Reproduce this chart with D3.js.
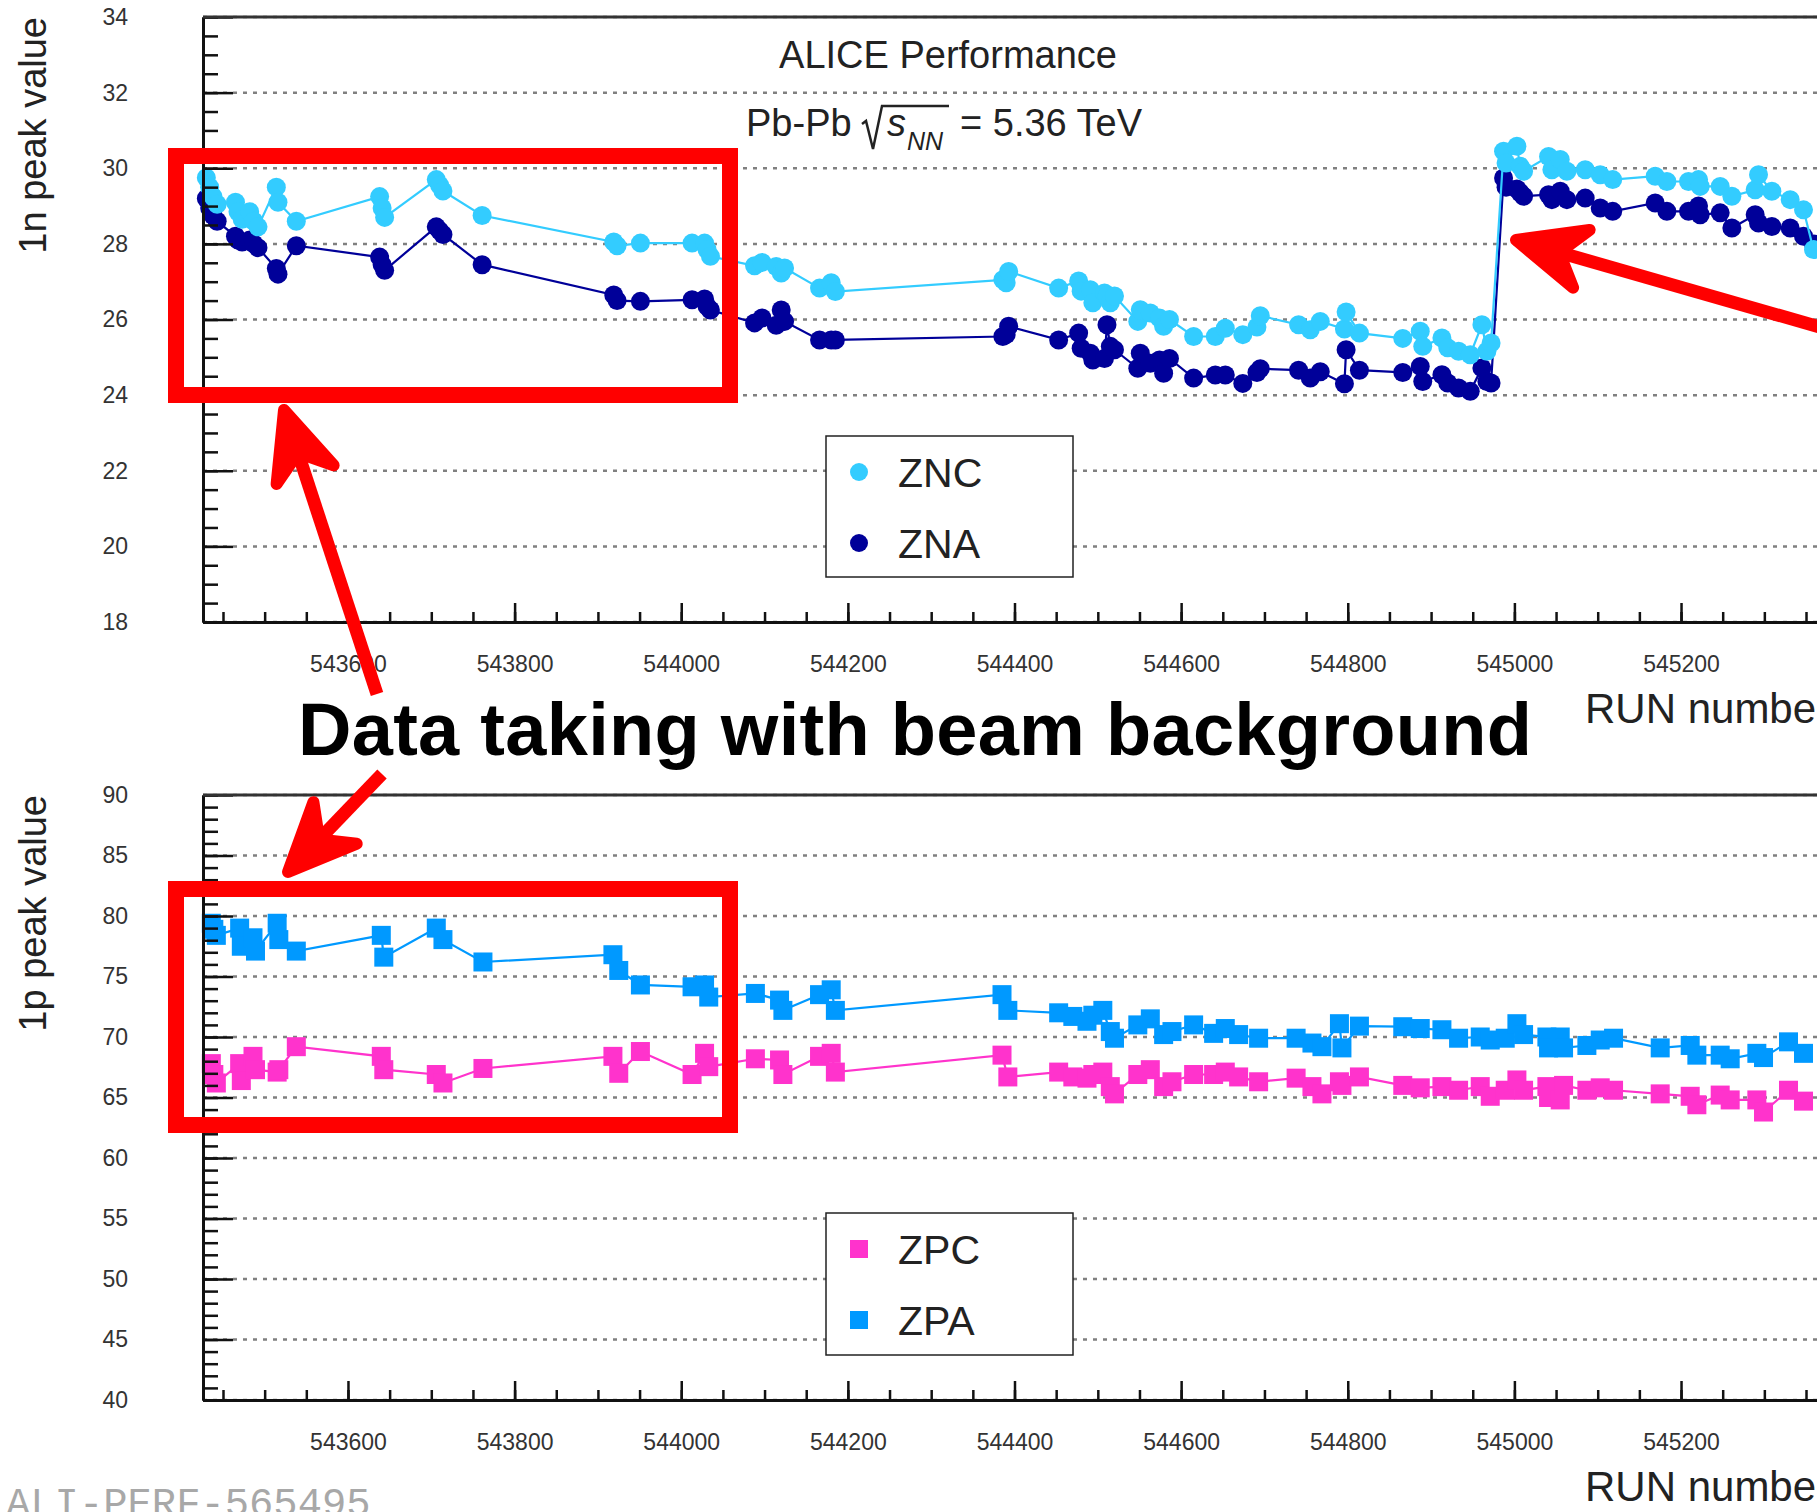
<!DOCTYPE html>
<html>
<head>
<meta charset="utf-8">
<script src="https://cdn.jsdelivr.net/npm/d3@7/dist/d3.min.js"></script>
<style>
  body { margin: 0; background: #fff; }
  svg { display: block; }
</style>
</head>
<body>
<div id="chart"></div>
<script>
//ZN PANEL DATA (1n peak)
var znRuns = [543430, 543434, 543438, 543443, 543465, 543468, 543473, 543482, 543487, 543492,
  543514, 543516, 543538, 543638, 543641, 543644, 543706, 543710, 543714, 543761,
  543919, 543923, 543951, 544013, 544028, 544031, 544035, 544088, 544097, 544114,
  544120, 544124, 544166, 544180, 544185, 544386, 544390, 544393, 544453, 544477,
  544480, 544491, 544494, 544508, 544511, 544515, 544520, 544548, 544551, 544563,
  544574, 544579, 544586, 544615, 544641, 544653, 544674, 544691, 544695, 544741,
  544755, 544767, 544796, 544798, 544814, 544866, 544887, 544890, 544913, 544920,
  544933, 544947, 544961, 544967, 544972, 544987, 544990, 545003, 545007, 545011,
  545041, 545045, 545055, 545063, 545085, 545103, 545118, 545169, 545183, 545209,
  545221, 545223, 545247, 545261, 545289, 545293, 545309, 545331, 545347, 545359];

var zncValues = [29.75, 29.5, 29.25, 29.05, 29.1, 28.85, 28.65, 28.85, 28.6, 28.45,
  29.5, 29.1, 28.6, 29.25, 28.95, 28.7, 29.7, 29.55, 29.4, 28.75,
  28.05, 27.95, 28.02, 28.02, 28.02, 27.85, 27.67, 27.42, 27.51, 27.4,
  27.23, 27.36, 26.83, 26.97, 26.74, 27.05, 26.97, 27.27, 26.83, 27.02,
  26.75, 26.79, 26.44, 26.7, 26.62, 26.44, 26.62, 25.95, 26.26, 26.17,
  26.04, 25.82, 26.0, 25.55, 25.55, 25.77, 25.6, 25.8, 26.1, 25.86,
  25.73, 25.95, 25.75, 26.2, 25.64, 25.5, 25.69, 25.29, 25.51, 25.25,
  25.16, 25.07, 25.86, 25.16, 25.38, 30.45, 30.14, 30.58, 30.05, 29.92,
  30.31, 29.96, 30.23, 29.92, 29.96, 29.83, 29.7, 29.79, 29.65, 29.65,
  29.7, 29.52, 29.52, 29.26, 29.43, 29.83, 29.39, 29.17, 28.9, 27.85];

var znaValues = [29.2, 28.95, 28.75, 28.6, 28.2, 28.1, 28.05, 28.1, 28.0, 27.9,
  27.35, 27.2, 27.95, 27.65, 27.45, 27.3, 28.45, 28.35, 28.25, 27.45,
  26.65, 26.5, 26.48, 26.52, 26.54, 26.35, 26.25, 25.91, 26.04, 25.85,
  26.25, 25.95, 25.46, 25.46, 25.46, 25.55, 25.6, 25.82, 25.46, 25.64,
  25.24, 25.11, 24.93, 24.97, 25.86, 25.29, 25.2, 24.71, 25.11, 24.84,
  24.93, 24.58, 24.97, 24.45, 24.53, 24.53, 24.31, 24.6, 24.7, 24.66,
  24.45, 24.62, 24.3, 25.2, 24.66, 24.6, 24.76, 24.36, 24.54, 24.32,
  24.19, 24.1, 24.72, 24.36, 24.32, 29.74, 29.5, 29.45, 29.35, 29.26,
  29.3, 29.17, 29.39, 29.17, 29.21, 28.95, 28.86, 29.08, 28.86, 28.86,
  29.0, 28.77, 28.82, 28.42, 28.77, 28.55, 28.46, 28.42, 28.2, 28.0];

//ZP PANEL DATA (1p peak)
var zpRuns = [543436, 543439, 543442, 543470, 543472, 543486, 543489, 543515, 543517, 543538,
  543640, 543643, 543706, 543714, 543762, 543918, 543925, 543951, 544013, 544028,
  544033, 544089, 544118, 544122, 544166, 544180, 544185, 544385, 544392, 544453,
  544470, 544487, 544494, 544506, 544515, 544520, 544548, 544563, 544579, 544589,
  544615, 544639, 544653, 544669, 544693, 544738, 544757, 544769, 544790, 544793,
  544814, 544866, 544887, 544913, 544933, 544959, 544971, 544989, 545003, 545011,
  545039, 545041, 545055, 545059, 545087, 545103, 545119, 545175, 545211, 545219,
  545247, 545259, 545291, 545299, 545329, 545347];

var zpcValues = [67.8, 66.9, 66.2, 67.8, 66.4, 68.4, 67.3, 67.1, 67.3, 69.2,
  68.4, 67.3, 66.9, 66.2, 67.4, 68.4, 67.0, 68.8, 66.9, 68.65,
  67.55, 68.2, 68.1, 66.9, 68.4, 68.65, 67.1, 68.5, 66.7, 67.1,
  66.7, 66.6, 66.9, 67.1, 65.9, 65.3, 66.9, 67.3, 65.9, 66.3,
  66.9, 66.9, 67.1, 66.7, 66.3, 66.6, 65.9, 65.3, 66.3, 66.0,
  66.7, 66.0, 65.8, 65.9, 65.6, 65.9, 65.1, 65.6, 66.45, 65.6,
  65.9, 65.0, 64.8, 66.0, 65.6, 65.8, 65.6, 65.3, 65.1, 64.4,
  65.2, 64.8, 64.8, 63.8, 65.6, 64.7];

var zpaValues = [79.4, 78.9, 78.4, 79.0, 77.5, 78.2, 77.1, 79.4, 78.05, 77.1,
  78.4, 76.6, 79.0, 78.05, 76.2, 76.8, 75.5, 74.3, 74.15, 74.3,
  73.3, 73.6, 73.05, 72.2, 73.5, 73.9, 72.2, 73.5, 72.2, 72.0,
  71.7, 71.3, 71.8, 72.2, 70.45, 69.9, 71.0, 71.5, 70.2, 70.45,
  71.0, 70.3, 70.7, 70.2, 69.9, 69.9, 69.5, 69.2, 71.1, 69.1,
  70.9, 70.85, 70.7, 70.6, 69.9, 70.0, 69.75, 69.9, 71.1, 70.2,
  70.0, 69.1, 70.0, 69.1, 69.3, 69.75, 69.9, 69.1, 69.3, 68.5,
  68.5, 68.2, 68.65, 68.3, 69.6, 68.65];

//TICKS
var runTicks = [543600, 543800, 544000, 544200, 544400, 544600, 544800, 545000, 545200];
var znTicks = [18, 20, 22, 24, 26, 28, 30, 32, 34];
var zpTicks = [40, 45, 50, 55, 60, 65, 70, 75, 80, 85, 90];

//LAYOUT
var width = 1817, height = 1512;
var frameLeft = 203, frameRight = 1831;
var font = "'Liberation Sans', Arial, Helvetica, sans-serif";

var svg = d3.select("#chart").append("svg")
  .attr("width", width)
  .attr("height", height)
  .style("font-family", font);

svg.append("rect").attr("width", width).attr("height", height).attr("fill", "#fff");

//shared x scale (run number)
var x = d3.scaleLinear()
  .domain([543426, 545380])
  .range([frameLeft, frameRight]);

var panels = [
  {
    top: 17, bottom: 622, domain: [18, 34], ticks: znTicks, minorStep: 0.5,
    title: "1n peak value", runs: znRuns,
    series: [
      {name: "ZNA", values: znaValues, color: "#000099", shape: "circle"},
      {name: "ZNC", values: zncValues, color: "#33ccff", shape: "circle"}
    ],
    legend: [
      {name: "ZNC", color: "#33ccff", shape: "circle"},
      {name: "ZNA", color: "#000099", shape: "circle"}
    ],
    legendBox: {x: 826, y: 436, w: 247, h: 141}
  },
  {
    top: 795, bottom: 1400, domain: [40, 90], ticks: zpTicks, minorStep: 1,
    title: "1p peak value", runs: zpRuns,
    series: [
      {name: "ZPA", values: zpaValues, color: "#0099ff", shape: "square"},
      {name: "ZPC", values: zpcValues, color: "#ff33cc", shape: "square"}
    ],
    legend: [
      {name: "ZPC", color: "#ff33cc", shape: "square"},
      {name: "ZPA", color: "#0099ff", shape: "square"}
    ],
    legendBox: {x: 826, y: 1213, w: 247, h: 142}
  }
];

panels.forEach(drawPanel);

function drawPanel(p) {
  var y = d3.scaleLinear().domain(p.domain).range([p.bottom, p.top]);
  var g = svg.append("g");

  //dotted grid on major y ticks
  g.selectAll(".grid")
    .data(p.ticks)
    .enter().append("line")
      .attr("x1", frameLeft)
      .attr("x2", width)
      .attr("y1", function(d) { return y(d); })
      .attr("y2", function(d) { return y(d); })
      .attr("stroke", "#808080")
      .attr("stroke-width", 2.5)
      .attr("stroke-dasharray", "4,6");

  //series lines + markers
  p.series.forEach(function(s) {
    var pts = p.runs.map(function(r, i) { return {run: r, val: s.values[i]}; });
    var line = d3.line()
      .x(function(d) { return x(d.run); })
      .y(function(d) { return y(d.val); });

    g.append("path")
      .datum(pts)
      .attr("d", line)
      .attr("fill", "none")
      .attr("stroke", s.color)
      .attr("stroke-width", 2.2);

    if (s.shape == "circle") {
      g.selectAll(".pt-" + s.name)
        .data(pts)
        .enter().append("circle")
          .attr("cx", function(d) { return x(d.run); })
          .attr("cy", function(d) { return y(d.val); })
          .attr("r", 9.5)
          .attr("fill", s.color);
    } else {
      g.selectAll(".pt-" + s.name)
        .data(pts)
        .enter().append("rect")
          .attr("x", function(d) { return x(d.run) - 9.5; })
          .attr("y", function(d) { return y(d.val) - 9.5; })
          .attr("width", 19)
          .attr("height", 19)
          .attr("fill", s.color);
    }
  });

  //y axis: minor then major ticks (inward)
  var minors = d3.range(p.domain[0], p.domain[1] + 0.001, p.minorStep);
  g.append("g")
    .attr("transform", "translate(" + frameLeft + ",0)")
    .call(d3.axisLeft(y).tickValues(minors).tickSize(-15).tickSizeOuter(0).tickFormat(""))
    .call(styleAxis);

  g.append("g")
    .attr("transform", "translate(" + frameLeft + ",0)")
    .call(d3.axisLeft(y).tickValues(p.ticks).tickSize(-30).tickSizeOuter(0).tickPadding(75).tickFormat(d3.format("d")))
    .call(styleAxis);

  //x axis
  var xMinors = d3.range(543450, 545400, 50);
  g.append("g")
    .attr("transform", "translate(0," + p.bottom + ")")
    .call(d3.axisBottom(x).tickValues(xMinors).tickSize(-10).tickSizeOuter(0).tickFormat(""))
    .call(styleAxis);

  g.append("g")
    .attr("transform", "translate(0," + p.bottom + ")")
    .call(d3.axisBottom(x).tickValues(runTicks).tickSize(-19).tickSizeOuter(0).tickPadding(34).tickFormat(d3.format("d")))
    .call(styleAxis);

  //top frame line
  g.append("line")
    .attr("x1", frameLeft).attr("x2", width)
    .attr("y1", p.top).attr("y2", p.top)
    .attr("stroke", "#333").attr("stroke-width", 3);

  //axis titles
  g.append("text")
    .attr("transform", "translate(46," + p.top + ") rotate(-90)")
    .attr("text-anchor", "end")
    .attr("font-size", 38)
    .attr("fill", "#222")
    .text(p.title);

  g.append("text")
    .attr("x", 1585)
    .attr("y", p.bottom + 101)
    .attr("font-size", 42)
    .attr("fill", "#222")
    .text("RUN number");

  //legend
  var lb = p.legendBox;
  var leg = g.append("g");
  leg.append("rect")
    .attr("x", lb.x).attr("y", lb.y)
    .attr("width", lb.w).attr("height", lb.h)
    .attr("fill", "#fff")
    .attr("stroke", "#222")
    .attr("stroke-width", 1.5);

  p.legend.forEach(function(e, i) {
    var cy = lb.y + 36 + i * 71;
    if (e.shape == "circle") {
      leg.append("circle").attr("cx", lb.x + 33).attr("cy", cy).attr("r", 9).attr("fill", e.color);
    } else {
      leg.append("rect").attr("x", lb.x + 24).attr("y", cy - 9).attr("width", 18).attr("height", 18).attr("fill", e.color);
    }
    leg.append("text")
      .attr("x", lb.x + 72)
      .attr("y", cy + 15)
      .attr("font-size", 41)
      .attr("fill", "#222")
      .text(e.name);
  });
}

function styleAxis(sel) {
  sel.attr("font-family", font).attr("font-size", 23);
  sel.select(".domain").attr("stroke", "#111").attr("stroke-width", 3);
  sel.selectAll(".tick line").attr("stroke", "#111").attr("stroke-width", 2.5);
  sel.selectAll(".tick text").attr("fill", "#333");
}

//ALICE labels
svg.append("text")
  .attr("x", 948).attr("y", 68)
  .attr("text-anchor", "middle")
  .attr("font-size", 38)
  .attr("fill", "#222")
  .text("ALICE Performance");

var energy = svg.append("g").attr("fill", "#222");
energy.append("text").attr("x", 746).attr("y", 136).attr("font-size", 38).text("Pb-Pb");
energy.append("path")
  .attr("d", "M862,124 L866,121 L873,149 L882,106 L949,106")
  .attr("fill", "none").attr("stroke", "#222").attr("stroke-width", 2.5);
energy.append("text").attr("x", 887).attr("y", 136).attr("font-size", 38).attr("font-style", "italic").text("s");
energy.append("text").attr("x", 907).attr("y", 150).attr("font-size", 25).attr("font-style", "italic").text("NN");
energy.append("text").attr("x", 960).attr("y", 136).attr("font-size", 38).text("= 5.36 TeV");

//watermark (cut by the bottom edge, as in the original)
svg.append("text")
  .attr("x", 6).attr("y", 1516)
  .attr("font-family", "'Liberation Mono', 'Courier New', monospace")
  .attr("font-size", 40.5)
  .attr("fill", "#a8a8a8")
  .text("ALI-PERF-565495");

//RED ANNOTATIONS
var annot = svg.append("g");
var red = "#ff0000";

annot.append("rect")
  .attr("x", 176).attr("y", 156).attr("width", 554).attr("height", 239)
  .attr("fill", "none").attr("stroke", red).attr("stroke-width", 16);

annot.append("rect")
  .attr("x", 176).attr("y", 889).attr("width", 554).attr("height", 236)
  .attr("fill", "none").attr("stroke", red).attr("stroke-width", 16);

function arrow(x1, y1, x2, y2) {
  var dx = x1 - x2, dy = y1 - y2, len = Math.sqrt(dx * dx + dy * dy);
  var ux = dx / len, uy = dy / len;
  var hl = 68, hw = 30;
  var bx = x2 + ux * hl, by = y2 + uy * hl;
  annot.append("line")
    .attr("x1", x1).attr("y1", y1)
    .attr("x2", x2 + ux * 30).attr("y2", y2 + uy * 30)
    .attr("stroke", red).attr("stroke-width", 13);
  annot.append("path")
    .attr("d", "M" + (bx - uy * hw) + "," + (by + ux * hw) +
               "L" + x2 + "," + y2 +
               "L" + (bx + uy * hw) + "," + (by - ux * hw) +
               "L" + (x2 + ux * 45) + "," + (y2 + uy * 45) + "Z")
    .attr("fill", red)
    .attr("stroke", red)
    .attr("stroke-width", 12)
    .attr("stroke-linejoin", "round");
}

arrow(377, 694, 284, 410);
arrow(382, 774, 288, 872);
arrow(1830, 330, 1516, 240);

svg.append("text")
  .attr("x", 298).attr("y", 755)
  .attr("font-size", 74)
  .attr("font-weight", "bold")
  .attr("fill", "#000")
  .attr("textLength", 1234)
  .attr("lengthAdjust", "spacing")
  .text("Data taking with beam background");
</script>
</body>
</html>
